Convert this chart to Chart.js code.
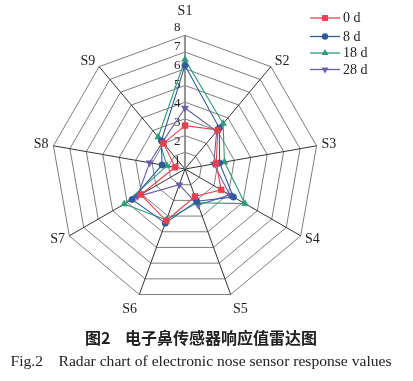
<!DOCTYPE html>
<html>
<head>
<meta charset="utf-8">
<script src="https://cdn.jsdelivr.net/npm/chart.js@4/dist/chart.umd.min.js"></script>
<style>
  html, body { margin: 0; padding: 0; background: #fff; }
  body { width: 413px; height: 381px; overflow: hidden; position: relative; }
  #wrap { position: absolute; left: -2px; top: -6px; width: 415px; height: 333px; }
  .cap { position: absolute; left: 0; width: 402px; text-align: center; color: #222; white-space: nowrap; }
  #capZh { top: 325px; font: bold 16px "Noto Sans CJK SC", sans-serif; line-height: 24px; }
  #capEn { top: 350px; font: 15.6px "Liberation Serif", "Times New Roman", serif; line-height: 22px; }
</style>
</head>
<body>
<div id="wrap"><canvas id="radar"></canvas></div>
<div class="cap" id="capZh">图2&nbsp;&nbsp;&nbsp;&nbsp;电子鼻传感器响应值雷达图</div>
<div class="cap" id="capEn">Fig.2&nbsp;&nbsp;&nbsp;&nbsp;Radar chart of electronic nose sensor response values</div>
<script>
// Sensor names and response values per storage time
const sensors = ['S1', 'S2', 'S3', 'S4', 'S5', 'S6', 'S7', 'S8', 'S9'];
const day0  = [2.6, 3.05, 1.9, 2.5, 1.75, 3.3, 3.05, 0.6, 2.0];
const day8  = [6.2, 3.2, 2.1, 3.35, 2.05, 3.45, 3.65, 1.4, 2.2];
const day18 = [6.55, 3.55, 2.4, 4.15, 2.15, 3.25, 4.2, 1.1, 2.5];
const day28 = [3.65, 2.95, 1.75, 3.1, 2.3, 1.0, 3.3, 2.15, 2.1];
const seriesNames = ['0 d', '8 d', '18 d', '28 d'];
const tickValues = [1, 2, 3, 4, 5, 6, 7, 8];

const SERIF = '"Liberation Serif", "Times New Roman", serif';
const colors = ['#e8404f', '#2f5a9c', '#2e9a78', '#6c5cac'];
const markers = [
  { style: 'rect', radius: 4.2, rotation: 0 },
  { style: 'circle', radius: 3.2, rotation: 0 },
  { style: 'triangle', radius: 4, rotation: 0 },
  { style: 'triangle', radius: 4, rotation: 180 }
];

function makeSet(i, values) {
  return {
    label: seriesNames[i],
    data: values,
    borderColor: colors[i],
    backgroundColor: colors[i],
    borderWidth: 1.1,
    fill: false,
    pointStyle: markers[i].style,
    pointRadius: markers[i].radius,
    pointRotation: markers[i].rotation,
    pointBackgroundColor: colors[i],
    pointBorderColor: colors[i],
    pointBorderWidth: 0.5
  };
}

function drawMarker(ctx, m, color, x, y) {
  ctx.save();
  ctx.fillStyle = color;
  ctx.beginPath();
  if (m.style === 'rect') {
    const s = m.radius * Math.SQRT1_2;
    ctx.rect(x - s, y - s, 2 * s, 2 * s);
  } else if (m.style === 'circle') {
    ctx.arc(x, y, m.radius, 0, Math.PI * 2);
  } else {
    const r = m.radius;
    const dir = m.rotation === 180 ? -1 : 1;
    ctx.moveTo(x, y - dir * r);
    ctx.lineTo(x - r * 0.866, y + dir * r * 0.5);
    ctx.lineTo(x + r * 0.866, y + dir * r * 0.5);
    ctx.closePath();
  }
  ctx.fill();
  ctx.restore();
}

// Value labels along the S1 axis and the legend box in the upper right
const radarDecor = {
  id: 'radarDecor',
  beforeDatasetsDraw(chart) {
    const ctx = chart.ctx;
    const r = chart.scales.r;
    ctx.save();
    ctx.font = '13px ' + SERIF;
    ctx.fillStyle = '#222';
    ctx.textAlign = 'right';
    ctx.textBaseline = 'middle';
    tickValues.forEach(v => {
      const dist = r.getDistanceFromCenterForValue(v);
      ctx.fillText(String(v), r.xCenter - 4.5, r.yCenter - dist * 1.14 + 10.5);
    });
    ctx.restore();
  },
  afterDraw(chart) {
    const ctx = chart.ctx;
    const rows = [24, 42.5, 59, 75.5];
    ctx.save();
    chart.data.datasets.forEach((ds, i) => {
      const y = rows[i];
      ctx.strokeStyle = ds.borderColor;
      ctx.lineWidth = 1.3;
      ctx.beginPath();
      ctx.moveTo(312, y);
      ctx.lineTo(342, y);
      ctx.stroke();
      drawMarker(ctx, markers[i], ds.borderColor, 327, y);
      ctx.fillStyle = '#222';
      ctx.font = '14px ' + SERIF;
      ctx.textAlign = 'left';
      ctx.textBaseline = 'middle';
      ctx.fillText(ds.label, 345, y + 0.5);
    });
    ctx.restore();
  }
};

const sideLabel = [false, true, true, true, false, false, true, true, true];
const labelPad = [15.6, 6, 5, 5, 7, 7, 5, 5, 6];

new Chart(document.getElementById('radar'), {
  type: 'radar',
  data: {
    labels: sensors,
    datasets: [makeSet(0, day0), makeSet(1, day8), makeSet(2, day18), makeSet(3, day28)]
  },
  options: {
    responsive: true,
    maintainAspectRatio: false,
    animation: false,
    layout: { padding: { left: 0, right: 41, top: 0, bottom: 0 } },
    plugins: { legend: { display: false }, tooltip: { enabled: false } },
    elements: { line: { tension: 0 } },
    scales: {
      r: {
        min: 0,
        max: 8,
        beginAtZero: true,
        ticks: { display: false, stepSize: 1 },
        grid: { circular: false, color: '#7d7d7d', lineWidth: 1 },
        angleLines: {
          color: ctx => ctx.index === 0 ? '#8a8a8a' : '#333',
          lineWidth: ctx => ctx.index === 0 ? 1.8 : 1
        },
        pointLabels: {
          color: '#222',
          padding: ctx => labelPad[ctx.index],
          font: ctx => ({ family: SERIF, size: 14, lineHeight: sideLabel[ctx.index] ? 0.1 : 1.2 })
        }
      }
    }
  },
  plugins: [radarDecor]
});
</script>
</body>
</html>
